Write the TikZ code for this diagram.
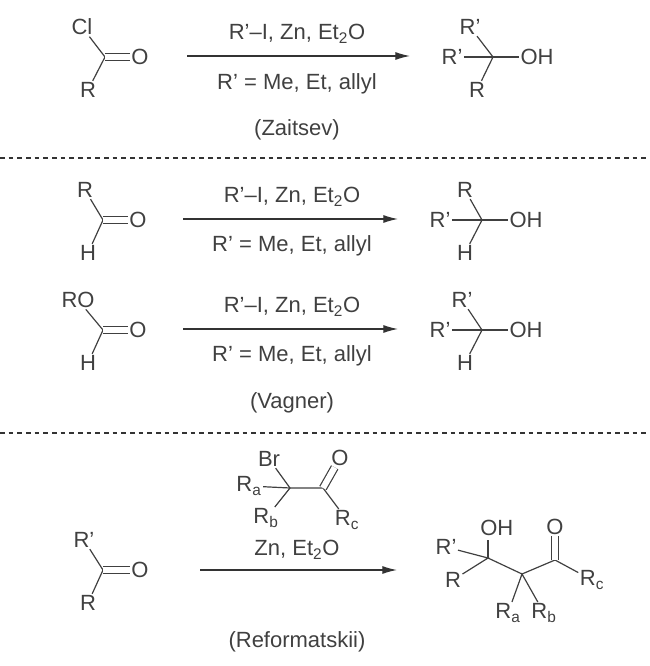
\documentclass[tikz,border=0pt]{standalone}
\usepackage{fontspec}
\setmainfont{Liberation Sans}
\usetikzlibrary{arrows.meta}
\begin{document}
\begin{tikzpicture}[x=0.75pt,y=-0.75pt,
  every node/.style={inner sep=1pt,font=\fontsize{16.5}{19}\selectfont,text=black!75},
  bond/.style={line width=0.9pt,draw=black!75},
  dbl/.style={line width=0.9pt,draw=black!75,double,double distance=4.5pt},
  rxn/.style={line width=0.9pt,draw=black!80,-{Latex[length=11pt,width=6pt]}},
  sep/.style={line width=0.9pt,draw=black!80,dash pattern=on 3.5pt off 3pt}]
\useasboundingbox (0,0) rectangle (649,666);
% ---------- Reaction 1 ----------
\node (a1Cl) at (82,27) {Cl};
\coordinate (a1C) at (105,57);
\node (a1O) at (140,57) {O};
\node (a1R) at (88,90) {R};
\draw[bond] (a1Cl) -- (a1C) -- (a1R);
\draw[dbl] (a1C) -- (a1O);
\coordinate (r1s) at (187,56); \coordinate (r1e) at (410,56);
\draw[rxn] (r1s) -- (r1e);
\node (t1a) at (297,34) {R'–I, Zn, Et\textsubscript{2}O};
\node (t1b) at (297,84) {R' = Me, Et, allyl};
\node (t1c) at (297,130) {(Zaitsev)};
\coordinate (p1C) at (493,57);
\node (p1Rt) at (470,27) {R'};
\node (p1Rl) at (452,57) {R'};
\node (p1OH) at (537,57) {OH};
\node (p1R) at (477,90) {R};
\draw[bond] (p1Rt) -- (p1C) -- (p1R);
\draw[bond] (p1Rl) -- (p1C) -- (p1OH);
\coordinate (d1a) at (0,158); \coordinate (d1b) at (649,158);
\draw[sep] (d1a) -- (d1b);
% ---------- Reaction 2 ----------
\node (a2R) at (85,190) {R};
\coordinate (a2C) at (103,220);
\node (a2O) at (138,220) {O};
\node (a2H) at (88,253) {H};
\draw[bond] (a2R) -- (a2C) -- (a2H);
\draw[dbl] (a2C) -- (a2O);
\coordinate (r2s) at (183,219); \coordinate (r2e) at (398,219);
\draw[rxn] (r2s) -- (r2e);
\node (t2a) at (292,197) {R'–I, Zn, Et\textsubscript{2}O};
\node (t2b) at (292,246) {R' = Me, Et, allyl};
\coordinate (p2C) at (482,220);
\node (p2Rt) at (465,190) {R};
\node (p2Rl) at (440,220) {R'};
\node (p2OH) at (526,220) {OH};
\node (p2H) at (465,253) {H};
\draw[bond] (p2Rt) -- (p2C) -- (p2H);
\draw[bond] (p2Rl) -- (p2C) -- (p2OH);
% ---------- Reaction 3 ----------
\node (a3R) at (78,300) {RO};
\coordinate (a3C) at (103,330);
\node (a3O) at (138,330) {O};
\node (a3H) at (88,363) {H};
\draw[bond] (a3R) -- (a3C) -- (a3H);
\draw[dbl] (a3C) -- (a3O);
\coordinate (r3s) at (183,329); \coordinate (r3e) at (398,329);
\draw[rxn] (r3s) -- (r3e);
\node (t3a) at (292,307) {R'–I, Zn, Et\textsubscript{2}O};
\node (t3b) at (292,356) {R' = Me, Et, allyl};
\node (t3c) at (292,403) {(Vagner)};
\coordinate (p3C) at (482,330);
\node (p3Rt) at (462,300) {R'};
\node (p3Rl) at (440,330) {R'};
\node (p3OH) at (526,330) {OH};
\node (p3H) at (465,363) {H};
\draw[bond] (p3Rt) -- (p3C) -- (p3H);
\draw[bond] (p3Rl) -- (p3C) -- (p3OH);
\coordinate (d2a) at (0,433); \coordinate (d2b) at (649,433);
\draw[sep] (d2a) -- (d2b);
% ---------- Reaction 4 ----------
\node (a4R1) at (84,540) {R'};
\coordinate (a4C) at (103,570);
\node (a4O) at (140,570) {O};
\node (a4R) at (88,603) {R};
\draw[bond] (a4R1) -- (a4C) -- (a4R);
\draw[dbl] (a4C) -- (a4O);
\coordinate (r4s) at (200,570); \coordinate (r4e) at (397,570);
\draw[rxn] (r4s) -- (r4e);
% reagent
\node (gBr) at (269,459) {Br};
\coordinate (gC) at (290,488);
\node (gRa) at (249,486) {R\textsubscript{a}};
\node (gRb) at (266,518) {R\textsubscript{b}};
\coordinate (gC2) at (323,488);
\node (gO) at (340,458) {O};
\node (gRc) at (347,520) {R\textsubscript{c}};
\draw[bond] (gBr) -- (gC) -- (gRb);
\draw[bond] (gRa) -- (gC) -- (gC2) -- (gRc);
\draw[dbl] (gC2) -- (gO);
\node (t4a) at (297,550) {Zn, Et\textsubscript{2}O};
\node (t4c) at (297,642) {(Reformatskii)};
% product
\coordinate (qC1) at (488,558);
\node (qR1) at (446,547) {R'};
\node (qR) at (453,580) {R};
\node[anchor=south west,inner sep=0pt,xshift=-6pt] (qOH) at (488,536) {OH};
\coordinate (qC2) at (522,574);
\node (qRa) at (508,613) {R\textsubscript{a}};
\node (qRb) at (544,613) {R\textsubscript{b}};
\coordinate (qC3) at (555,560);
\node (qO) at (555,527) {O};
\node (qRc) at (592,580) {R\textsubscript{c}};
\coordinate (qOb) at (488,540);
\draw[bond] (qR1) -- (qC1) -- (qR);
\draw[bond] (qC1) -- (qOb);
\draw[bond] (qC1) -- (qC2) -- (qC3) -- (qRc);
\draw[bond] (qRa) -- (qC2) -- (qRb);
\draw[dbl] (qC3) -- (qO);
\end{tikzpicture}
\end{document}
